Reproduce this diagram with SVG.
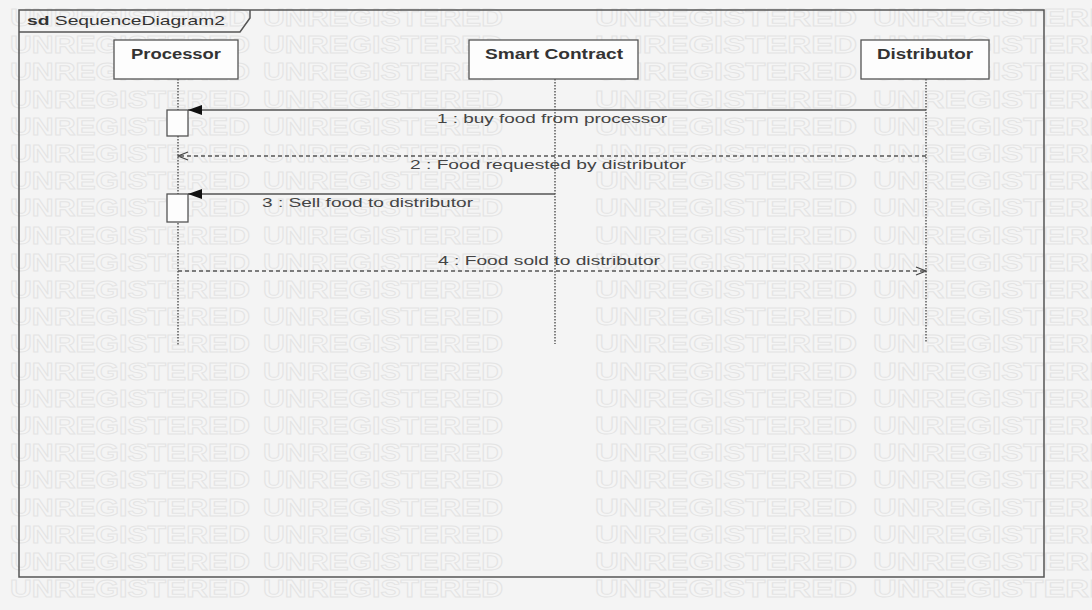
<svg xmlns="http://www.w3.org/2000/svg" xmlns:xlink="http://www.w3.org/1999/xlink" width="1092" height="610" viewBox="0 0 1092 610">
<style>
.wm{font-family:"Liberation Sans",Arial,sans-serif;font-weight:bold;font-size:23px;fill:#f5f5f5;stroke:#e4e4e4;stroke-width:0.9}
.frame{fill:none;stroke:#555;stroke-width:1.5}
.box{fill:#fdfdfd;stroke:#555;stroke-width:1.3}
.hdr{font-family:"Liberation Sans",Arial,sans-serif;font-weight:bold;font-size:14px;fill:#333}
.lbl{font-family:"Liberation Sans",Arial,sans-serif;font-size:13px;fill:#444}
.life{stroke:#444;stroke-width:1.3;stroke-dasharray:1.5 1.5;fill:none}
.sync{stroke:#555;stroke-width:1.3;fill:none}
.ret{stroke:#555;stroke-width:1.3;stroke-dasharray:4 3;fill:none}
.act{fill:#fdfdfd;stroke:#555;stroke-width:1.3}
</style>
<defs>
<marker id="filled" viewBox="0 0 14 10" refX="14" refY="5" markerWidth="14" markerHeight="10" markerUnits="userSpaceOnUse" orient="auto">
<path d="M14,5 L0,0 L0,10 Z" fill="#111"/>
</marker>
<marker id="open" viewBox="0 0 12 10" refX="11" refY="5" markerWidth="12" markerHeight="10" markerUnits="userSpaceOnUse" orient="auto">
<path d="M1,1 L11,5 L1,9" fill="none" stroke="#444" stroke-width="1.3"/>
</marker>
<text id="wmrow" class="wm"><tspan x="10" textLength="240" lengthAdjust="spacingAndGlyphs">UNREGISTERED</tspan><tspan x="263" textLength="240" lengthAdjust="spacingAndGlyphs">UNREGISTERED</tspan><tspan x="595" textLength="262" lengthAdjust="spacingAndGlyphs">UNREGISTERED</tspan><tspan x="873" textLength="262" lengthAdjust="spacingAndGlyphs">UNREGISTERED</tspan></text>
</defs>
<rect x="0" y="0" width="1092" height="610" fill="#f4f4f4"/>
<g id="watermark">
<use xlink:href="#wmrow" y="26"/>
<use xlink:href="#wmrow" y="53"/>
<use xlink:href="#wmrow" y="80"/>
<use xlink:href="#wmrow" y="108"/>
<use xlink:href="#wmrow" y="135"/>
<use xlink:href="#wmrow" y="162"/>
<use xlink:href="#wmrow" y="189"/>
<use xlink:href="#wmrow" y="216"/>
<use xlink:href="#wmrow" y="244"/>
<use xlink:href="#wmrow" y="271"/>
<use xlink:href="#wmrow" y="298"/>
<use xlink:href="#wmrow" y="325"/>
<use xlink:href="#wmrow" y="352"/>
<use xlink:href="#wmrow" y="380"/>
<use xlink:href="#wmrow" y="407"/>
<use xlink:href="#wmrow" y="434"/>
<use xlink:href="#wmrow" y="461"/>
<use xlink:href="#wmrow" y="488"/>
<use xlink:href="#wmrow" y="516"/>
<use xlink:href="#wmrow" y="543"/>
<use xlink:href="#wmrow" y="570"/>
<use xlink:href="#wmrow" y="597"/>
</g>
<g id="frame">
<rect class="frame" x="19" y="10" width="1025" height="567"/>
<path class="frame" d="M19,32 L240,32 L250,18 L250,10"/>
<text x="27" y="25" class="lbl" style="fill:#333" textLength="198" lengthAdjust="spacingAndGlyphs"><tspan font-weight="bold">sd</tspan> SequenceDiagram2</text>
</g>
<g id="lifelines">
<line class="life" x1="178" y1="79" x2="178" y2="346"/>
<line class="life" x1="555" y1="79" x2="555" y2="344"/>
<line class="life" x1="926" y1="79" x2="926" y2="343"/>
</g>
<g id="processor">
<rect class="box" x="114" y="40" width="124" height="39"/>
<text class="hdr" x="176" y="59" text-anchor="middle" textLength="90" lengthAdjust="spacingAndGlyphs">Processor</text>
</g>
<g id="smart-contract">
<rect class="box" x="469" y="40" width="169" height="39"/>
<text class="hdr" x="554" y="59" text-anchor="middle" textLength="138" lengthAdjust="spacingAndGlyphs">Smart Contract</text>
</g>
<g id="distributor">
<rect class="box" x="861" y="40" width="128" height="39"/>
<text class="hdr" x="925" y="59" text-anchor="middle" textLength="96" lengthAdjust="spacingAndGlyphs">Distributor</text>
</g>
<g id="activations">
<rect class="act" x="167" y="110" width="21" height="26"/>
<rect class="act" x="167" y="194" width="21" height="28"/>
</g>
<g id="connectors">
<line class="sync" x1="926" y1="110" x2="188" y2="110" marker-end="url(#filled)"/>
<line class="ret" x1="926" y1="156" x2="178" y2="156" marker-end="url(#open)"/>
<line class="sync" x1="555" y1="194" x2="188" y2="194" marker-end="url(#filled)"/>
<line class="ret" x1="178" y1="271" x2="926" y2="271" marker-end="url(#open)"/>
<text class="lbl" x="437" y="123" textLength="230" lengthAdjust="spacingAndGlyphs">1 : buy food from processor</text>
<text class="lbl" x="410" y="169" textLength="276" lengthAdjust="spacingAndGlyphs">2 : Food requested by distributor</text>
<text class="lbl" x="262" y="207" textLength="211" lengthAdjust="spacingAndGlyphs">3 : Sell food to distributor</text>
<text class="lbl" x="438" y="265" textLength="222" lengthAdjust="spacingAndGlyphs">4 : Food sold to distributor</text>
</g>
</svg>
